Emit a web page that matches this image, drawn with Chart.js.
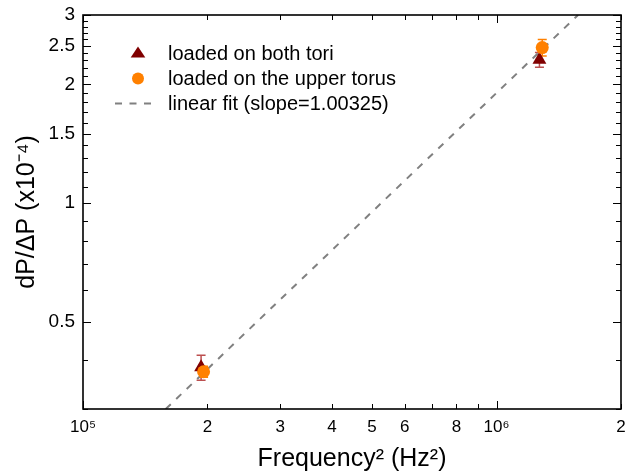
<!DOCTYPE html>
<html>
<head>
<meta charset="utf-8">
<script src="https://cdn.jsdelivr.net/npm/chart.js@4/dist/chart.umd.min.js"></script>
<style>
  html, body { margin: 0; padding: 0; background: #fff; }
  #wrap { width: 629px; height: 474px; }
</style>
</head>
<body>
<div id="wrap"><canvas id="myChart"></canvas></div>
<script>
// values (x: Hz^2, y: dP/dP in units of 1e-4)
var bothX = [1.93e5, 1.27e6];
var bothY = [0.383, 2.31];
var bothErr = [0.028, 0.10];

var upperX = [1.957e5, 1.29e6];
var upperY = [0.373, 2.48];
var upperErr = [0.012, 0.12];

// linear fit, end points where it leaves the frame
var fitX = [1.585e5, 1.575e6];
var fitY = [0.3, 3];

var xTicks = [1e5, 2e5, 3e5, 4e5, 5e5, 6e5, 7e5, 8e5, 9e5, 1e6, 2e6];
var xLabels = ['10\u2075', '2', '3', '4', '5', '6', '', '8', '', '10\u2076', '2'];
var yMajor = [0.5, 1, 1.5, 2, 2.5, 3];
var yLabels = ['0.5', '1', '1.5', '2', '2.5', '3'];

var yTicks = [];
for (var i = 3; i <= 30; i++) yTicks.push(i / 10);

var FONT = "'Liberation Sans', Arial, sans-serif";
var TRI = '#800000', ORANGE = '#ff8000';
var DASH = [7, 7.5];

var errorBars = {
  id: 'errorBars',
  beforeDatasetsDraw: function (chart) {
    var ctx = chart.ctx, x = chart.scales.x, y = chart.scales.y;
    function draw(xs, ys, es, color) {
      ctx.strokeStyle = color;
      ctx.lineWidth = 1.5;
      for (var i = 0; i < xs.length; i++) {
        var px = x.getPixelForValue(xs[i]);
        var top = y.getPixelForValue(ys[i] + es[i]);
        var bot = y.getPixelForValue(ys[i] - es[i]);
        ctx.beginPath();
        ctx.moveTo(px, top); ctx.lineTo(px, bot);
        ctx.moveTo(px - 4.5, top); ctx.lineTo(px + 4.5, top);
        ctx.moveTo(px - 4.5, bot); ctx.lineTo(px + 4.5, bot);
        ctx.stroke();
      }
    }
    ctx.save();
    draw(bothX, bothY, bothErr, 'rgba(176,48,48,0.85)');
    draw(upperX, upperY, upperErr, ORANGE);
    ctx.restore();
  }
};

var frame = {
  id: 'frame',
  afterDraw: function (chart) {
    var ctx = chart.ctx, a = chart.chartArea, x = chart.scales.x, y = chart.scales.y;
    ctx.save();
    ctx.strokeStyle = '#000';
    ctx.lineWidth = 1;
    ctx.beginPath();
    xTicks.forEach(function (v) {
      var px = Math.round(x.getPixelForValue(v)) + 0.5;
      var len = (v === 1e5 || v === 1e6) ? 8 : 5;
      ctx.moveTo(px, a.bottom); ctx.lineTo(px, a.bottom - len);
      ctx.moveTo(px, a.top); ctx.lineTo(px, a.top + len);
    });
    yTicks.forEach(function (v) {
      var py = Math.round(y.getPixelForValue(v)) + 0.5;
      var len = yMajor.indexOf(v) >= 0 ? 8 : 5;
      ctx.moveTo(a.left, py); ctx.lineTo(a.left + len, py);
      ctx.moveTo(a.right, py); ctx.lineTo(a.right - len, py);
    });
    ctx.stroke();
    ctx.lineWidth = 1.6;
    ctx.strokeRect(a.left, a.top, a.right - a.left, a.bottom - a.top);

    // legend inside the frame
    var sx = a.left + 55, tx = a.left + 85;
    var rows = [a.top + 38, a.top + 63.5, a.top + 88.5];
    ctx.fillStyle = TRI;
    ctx.beginPath();
    ctx.moveTo(sx, rows[0] - 6.5); ctx.lineTo(sx + 7.3, rows[0] + 4.5); ctx.lineTo(sx - 7.3, rows[0] + 4.5);
    ctx.closePath(); ctx.fill();
    ctx.fillStyle = ORANGE;
    ctx.beginPath(); ctx.arc(sx, rows[1], 6, 0, Math.PI * 2); ctx.fill();
    ctx.strokeStyle = '#808080'; ctx.lineWidth = 2; ctx.setLineDash(DASH);
    ctx.beginPath(); ctx.moveTo(sx - 23, rows[2]); ctx.lineTo(sx + 16, rows[2]); ctx.stroke();
    ctx.setLineDash([]);
    ctx.fillStyle = '#000';
    ctx.font = '20px ' + FONT;
    ctx.textBaseline = 'middle';
    var ds = chart.data.datasets;
    ctx.fillText(ds[0].label, tx, rows[0] + 1);
    ctx.fillText(ds[1].label, tx, rows[1] + 1);
    ctx.fillText(ds[2].label, tx, rows[2] + 1);
    ctx.restore();
  }
};

var ctx = document.getElementById('myChart');

var myChart = new Chart(ctx, {
  type: 'scatter',
  data: {
    datasets: [{
      label: 'loaded on both tori',
      data: bothX.map(function (v, i) { return { x: v, y: bothY[i] }; }),
      pointStyle: 'triangle',
      pointRadius: 8,
      backgroundColor: TRI,
      borderColor: TRI,
      borderWidth: 0,
      order: 2
    }, {
      label: 'loaded on the upper torus',
      data: upperX.map(function (v, i) { return { x: v, y: upperY[i] }; }),
      pointStyle: 'circle',
      pointRadius: 6.5,
      backgroundColor: ORANGE,
      borderColor: ORANGE,
      borderWidth: 0,
      order: 1
    }, {
      label: 'linear fit (slope=1.00325)',
      data: fitX.map(function (v, i) { return { x: v, y: fitY[i] }; }),
      showLine: true,
      pointRadius: 0,
      borderColor: '#808080',
      borderWidth: 2,
      borderDash: DASH,
      order: 3
    }]
  },
  options: {
    responsive: true,
    maintainAspectRatio: false,
    animation: false,
    layout: { padding: { top: 15, right: 6, left: 0, bottom: 0 } },
    plugins: { legend: { display: false }, tooltip: { enabled: false } },
    scales: {
      x: {
        type: 'logarithmic',
        min: 1e5,
        max: 2e6,
        afterBuildTicks: function (s) { s.ticks = xTicks.map(function (v) { return { value: v }; }); },
        afterFit: function (s) { s.height = 65; s.paddingLeft = 0; s.paddingRight = 0; },
        grid: { display: false, drawTicks: false },
        border: { display: false },
        ticks: {
          autoSkip: false,
          maxRotation: 0,
          padding: 8,
          color: '#000',
          font: { family: FONT, size: 17 },
          callback: function (v) { var k = xTicks.indexOf(v); return k >= 0 ? xLabels[k] : ''; }
        },
        title: {
          display: true,
          text: 'Frequency\u00b2 (Hz\u00b2)',
          color: '#000',
          padding: { top: 0, bottom: 0 },
          font: { family: FONT, size: 25 }
        }
      },
      y: {
        type: 'logarithmic',
        min: 0.3,
        max: 3,
        afterBuildTicks: function (s) { s.ticks = yTicks.map(function (v) { return { value: v }; }); },
        afterFit: function (s) { s.width = 83; s.paddingTop = 0; s.paddingBottom = 0; },
        grid: { display: false, drawTicks: false },
        border: { display: false },
        ticks: {
          autoSkip: false,
          padding: 8,
          color: '#000',
          font: { family: FONT, size: 19 },
          callback: function (v) {
            for (var k = 0; k < yMajor.length; k++) if (Math.abs(yMajor[k] - v) < 1e-9) return yLabels[k];
            return '';
          }
        },
        title: {
          display: true,
          text: 'dP/\u0394P (x10\u207b\u2074)',
          color: '#000',
          padding: { top: 12, bottom: 0 },
          font: { family: FONT, size: 25 }
        }
      }
    }
  },
  plugins: [errorBars, frame]
});
</script>
</body>
</html>
